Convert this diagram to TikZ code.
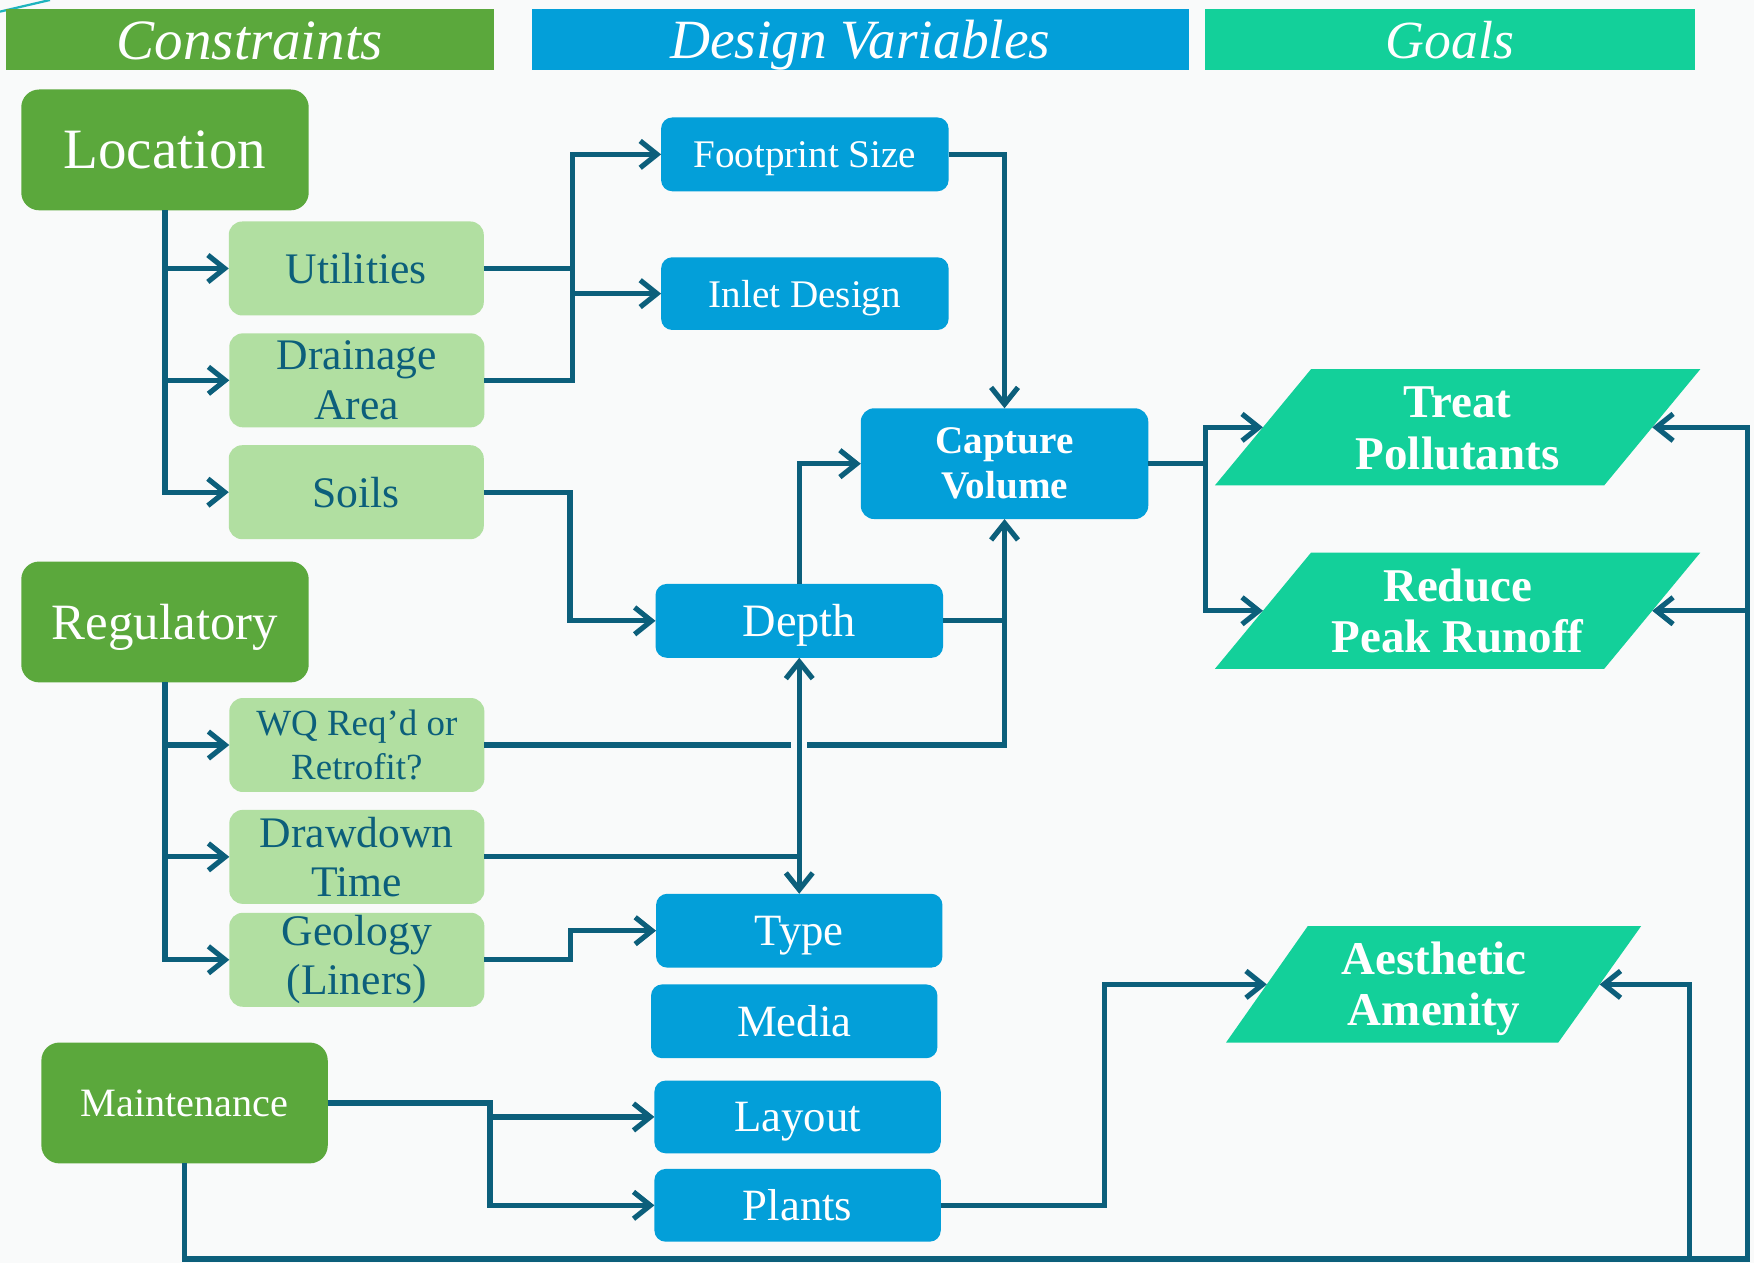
\documentclass[tikz,border=0pt]{standalone}
\usepackage{fontspec}
\setmainfont{Liberation Serif}
\usetikzlibrary{arrows.meta,calc}
\definecolor{cgreen}{RGB}{91,168,60}
\definecolor{clight}{RGB}{177,223,161}
\definecolor{cblue}{RGB}{3,159,217}
\definecolor{cgoal}{RGB}{19,208,154}
\definecolor{cline}{RGB}{12,95,123}
\definecolor{cbg}{RGB}{249,250,250}
\definecolor{cstray}{RGB}{30,180,190}
\begin{document}
\begin{tikzpicture}[x=1pt,y=-1pt,
  hdr/.style={inner sep=0pt, outer sep=0pt, text=white, anchor=base,
    font=\fontsize{#1}{52}\selectfont\itshape},
  cons/.style={fill=cgreen, rounded corners=16pt, text=white, minimum width=257pt,
    minimum height=108pt, inner sep=0pt, outer sep=0pt, align=center, text depth=0pt},
  lite/.style={fill=clight, rounded corners=12pt, text=cline, minimum width=228pt,
    minimum height=84pt, inner sep=0pt, outer sep=0pt, align=center,
    font=\fontsize{39}{44}\selectfont},
  dv/.style={fill=cblue, rounded corners=10pt, text=white, minimum width=257pt,
    minimum height=66pt, inner sep=0pt, outer sep=0pt, align=center,
    font=\fontsize{40}{44}\selectfont},
  one/.style={text depth=0pt},
  goalt/.style={text=white, inner sep=0pt, align=center,
    font=\bfseries\fontsize{42}{46}\selectfont},
  conn/.style={draw=cline, line width=4.6pt},
  tip/.style={Straight Barb[length=15pt,width=24pt]},
  arr/.style={conn, -{Straight Barb[length=15pt,width=24pt]}},
  arr2/.style={conn, {Straight Barb[length=15pt,width=24pt]}-{Straight Barb[length=15pt,width=24pt]}}
]
% background / bounding box
\fill[cbg] (0,0) rectangle (1568,1129);
\useasboundingbox (0,0) rectangle (1568,1129);
\draw[cstray, line width=2pt] (0,10.4) -- (44.7,0);

% header bars
\fill[cgreen] (5,8) rectangle (442,63);
\fill[cblue] (476,8) rectangle (1062.5,63);
\fill[cgoal] (1077,8) rectangle (1515,63);
\node[hdr=51] (hc) at (223.5,53) {Constraints};
\node[hdr=49.5] (hd) at (769,52) {Design Variables};
\node[hdr=48] (hg) at (1296,52) {Goals};

% constraints
\node[cons, font=\fontsize{51}{56}\selectfont] (L) at (147.5,134) {Location};
\node[cons, font=\fontsize{45.5}{50}\selectfont] (R) at (147.5,556) {Regulatory};
\node[cons, minimum width=256pt, font=\fontsize{36}{40}\selectfont] (M) at (165,986) {Maintenance};

\node[lite, one] (U) at (318.5,240) {Utilities};
\node[lite] (D) at (319,340) {Drainage\\Area};
\node[lite, one] (S) at (318.5,440) {Soils};
\node[lite, font=\fontsize{33}{39}\selectfont] (WQ) at (319,666) {WQ Req’d or\\Retrofit?};
\node[lite] (DT) at (319,766) {Drawdown\\Time};
\node[lite] (G) at (319,858) {Geology\\(Liners)};

% design variables
\node[dv, one, font=\fontsize{35}{40}\selectfont] (FS) at (719.5,138) {Footprint Size};
\node[dv, one, font=\fontsize{35}{40}\selectfont, minimum height=65pt] (ID) at (719.5,262.5) {Inlet Design};
\node[dv, minimum height=99pt, rounded corners=12pt, font=\bfseries\fontsize{35}{40}\selectfont] (CV) at (898,414.5) {Capture\\Volume};
\node[dv, one, font=\fontsize{41.5}{44}\selectfont] (DP) at (714.5,555) {Depth};
\node[dv, one, minimum width=256pt] (T) at (714.5,832) {Type};
\node[dv, one, minimum width=256pt] (MD) at (710,913) {Media};
\node[dv, one, minimum width=256pt, minimum height=65pt] (LY) at (713,998.5) {Layout};
\node[dv, one, minimum width=256pt, minimum height=65pt] (PL) at (713,1077.5) {Plants};

% goals
\fill[cgoal] (1086,434) -- (1172,330) -- (1520,330) -- (1434,434) -- cycle;
\fill[cgoal] (1086,598) -- (1172,494) -- (1520,494) -- (1434,598) -- cycle;
\fill[cgoal] (1096,932) -- (1169,828) -- (1467,828) -- (1393,932) -- cycle;
\node[goalt] (TP) at (1303,383) {Treat\\Pollutants};
\node[goalt] (RP) at (1303,546) {Reduce\\Peak Runoff};
\node[goalt] (AA) at (1282,884) {Aesthetic\\Amenity};
\coordinate (TPl) at (1129,382);
\coordinate (TPr) at (1477,382);
\coordinate (RPl) at (1129,546);
\coordinate (RPr) at (1477,546);
\coordinate (AAl) at (1132.5,880);
\coordinate (AAr) at (1430,880);

% connectors: location
\draw[arr] (L.south) |- (U.west);
\draw[arr] (L.south) |- (D.west);
\draw[arr] (L.south) |- (S.west);
% regulatory
\draw[arr] (R.south) |- (WQ.west);
\draw[arr] (R.south) |- (DT.west);
\draw[arr] (R.south) |- (G.west);
% utilities / drainage
\coordinate (j1) at (512,240);
\draw[arr] (U.east) -- (j1) |- (FS.west);
\draw[arr] (j1) |- (ID.west);
\draw[conn] (D.east) -| (j1);
% footprint to capture
\draw[arr] (FS.east) -| (CV.north);
% soils to depth
\draw[arr] (S.east) -- ++(77,0) |- (DP.west);
% depth to capture
\draw[arr] (DP.north) |- (CV.west);
\draw[arr] (DP.east) -| (CV.south);
% WQ to capture (with gap at crossing)
\coordinate (gapL) at ([xshift=-7pt]WQ.east -| DP.south);
\coordinate (gapR) at ([xshift=7pt]WQ.east -| DP.south);
\draw[conn] (WQ.east) -- (gapL);
\draw[conn] (gapR) -| (DP.east -| CV.south);
% drawdown to depth and type
\draw[conn] (DT.east) -- (DT.east -| DP.south);
\draw[arr2] (DP.south) -- (T.north);
% geology to type
\draw[arr] (G.east) -- ++(77,0) |- (T.west);
% maintenance to layout / plants
\draw[arr] (M.east) -- ++(145,0) |- (LY.west);
\draw[arr] (M.east) -- ++(145,0) |- (PL.west);
% plants to aesthetic
\draw[arr] (PL.east) -- ++(146,0) |- (AAl);
% capture to goals
\draw[arr] (CV.east) -- ++(51,0) |- (TPl);
\draw[arr] (CV.east) -- ++(51,0) |- (RPl);
% maintenance loop to goals
\coordinate (lbr) at (1562,1125.5);
\coordinate (lbm) at (1510,1125.5);
\draw[arr] (M.south) |- (lbr) |- (TPr);
\draw[arr] (lbr) |- (RPr);
\draw[arr] (lbm) |- (AAr);
\end{tikzpicture}
\end{document}
